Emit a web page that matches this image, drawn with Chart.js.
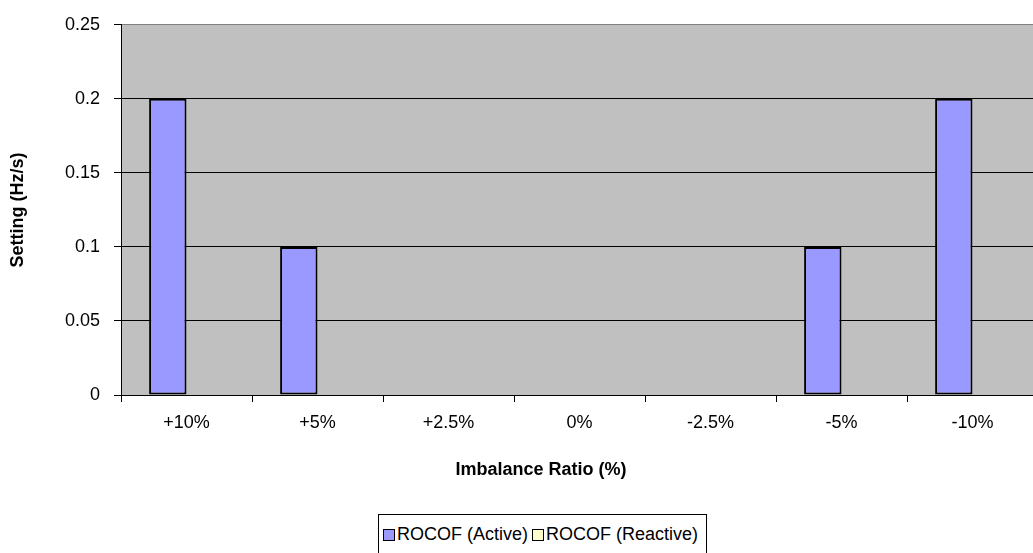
<!DOCTYPE html>
<html>
<head>
<meta charset="utf-8">
<script src="https://cdn.jsdelivr.net/npm/chart.js@4.4.1/dist/chart.umd.min.js"></script>
<style>
  html, body { margin: 0; padding: 0; background: #fff; overflow: hidden; }
  #wrap { position: relative; width: 1033px; height: 553px; overflow: hidden; font-family: "Liberation Sans", Arial, sans-serif; }
  #chartBox { position: absolute; left: 0; top: 0; width: 1040px; height: 553px; }
  #xTitle { position: absolute; top: 459px; left: 341px; width: 400px; text-align: center; font-weight: bold; font-size: 18px; color: #000; }
  #legend { position: absolute; left: 378px; top: 514px; height: 44px; padding: 0 4px; border: 1px solid #000; display: flex; align-items: flex-start; font-size: 18px; color: #000; background: #fff; }
  .item { display: flex; align-items: center; margin-top: 9px; margin-right: 4px; }
  .sw { width: 10px; height: 10px; border: 1px solid #000; margin-right: 2px; }
</style>
</head>
<body>
<div id="wrap">
  <div id="chartBox"><canvas id="rocofChart" width="1040" height="553"></canvas></div>
  <div id="xTitle">Imbalance Ratio (%)</div>
  <div id="legend"></div>
</div>
<script>
// Dữ liệu biểu đồ
const categories = ['+10%', '+5%', '+2.5%', '0%', '-2.5%', '-5%', '-10%'];
const activeValues = [0.2, 0.1, 0, 0, 0, 0.1, 0.2];
const reactiveValues = [0, 0, 0, 0, 0, 0, 0];
const seriesNames = ['ROCOF (Active)', 'ROCOF (Reactive)'];
const yMax = 0.25;
const yStep = 0.05;

// Nền xám cho vùng vẽ
const plotBackground = {
    id: 'plotBackground',
    beforeDraw(chart) {
        const { ctx, chartArea } = chart;
        ctx.save();
        ctx.fillStyle = '#C0C0C0';
        ctx.fillRect(chartArea.left, chartArea.top, chartArea.right - chartArea.left, chartArea.bottom - chartArea.top);
        ctx.restore();
    }
};

function initRocofChart() {
    const ctx = document.getElementById('rocofChart');
    if (!ctx) return null;

    Chart.defaults.font.family = '"Liberation Sans", Arial, sans-serif';
    Chart.defaults.font.size = 18;
    Chart.defaults.color = '#000';

    return new Chart(ctx, {
        type: 'bar',
        data: {
            labels: categories,
            datasets: [{
                label: seriesNames[0],
                data: activeValues,
                backgroundColor: '#9999FF',
                borderColor: '#000',
                borderWidth: 2,
                borderSkipped: false
            }, {
                label: seriesNames[1],
                data: reactiveValues,
                backgroundColor: '#FFFFCC',
                borderColor: '#000',
                borderWidth: 0
            }]
        },
        options: {
            responsive: false,
            animation: false,
            layout: { padding: { left: 0, top: 19, right: 2, bottom: 0 } },
            plugins: {
                legend: { display: false },
                tooltip: { enabled: false }
            },
            datasets: {
                bar: { barPercentage: 1, categoryPercentage: 0.571 }
            },
            scales: {
                x: {
                    offset: true,
                    grid: {
                        offset: true,
                        drawOnChartArea: false,
                        drawTicks: true,
                        tickLength: 7,
                        tickColor: '#000'
                    },
                    border: { color: '#000', width: 1 },
                    ticks: { padding: 10, maxRotation: 0 },
                    afterFit(scale) { scale.height = 553 - 395; }
                },
                y: {
                    min: 0,
                    max: yMax,
                    grid: {
                        color: (c) => (c.tick && c.tick.value >= yMax - 1e-9) ? '#808080' : '#000',
                        tickColor: '#000',
                        tickLength: 7,
                        lineWidth: 1
                    },
                    border: { color: '#000', width: 1 },
                    ticks: {
                        stepSize: yStep,
                        padding: 14,
                        callback: (v) => String(Math.round(v * 100) / 100)
                    },
                    title: {
                        display: true,
                        text: 'Setting (Hz/s)',
                        font: { weight: 'bold', size: 18 },
                        padding: { top: 7, bottom: 0 }
                    },
                    afterFit(scale) { scale.width = 121; }
                }
            }
        },
        plugins: [plotBackground]
    });
}

// Chú giải dạng HTML có khung viền
function buildLegend(chart) {
    const box = document.getElementById('legend');
    if (!box || !chart) return;
    chart.data.datasets.forEach(function(ds) {
        const item = document.createElement('div');
        item.className = 'item';
        const sw = document.createElement('span');
        sw.className = 'sw';
        sw.style.background = ds.backgroundColor;
        const txt = document.createElement('span');
        txt.textContent = ds.label;
        item.appendChild(sw);
        item.appendChild(txt);
        box.appendChild(item);
    });
}

document.addEventListener('DOMContentLoaded', function() {
    const chart = initRocofChart();
    buildLegend(chart);
});
</script>
</body>
</html>
